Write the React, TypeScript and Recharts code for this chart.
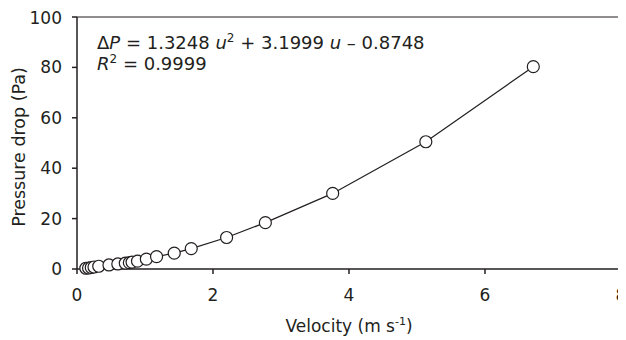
import React from "react";
import {
  ComposedChart,
  Line,
  XAxis,
  YAxis,
  Label,
  ReferenceLine,
  Customized,
} from "recharts";

const velocity = [
  0.13, 0.17, 0.21, 0.25, 0.32, 0.47, 0.6, 0.71, 0.77, 0.81, 0.89, 1.02, 1.17,
  1.43, 1.68, 2.2, 2.77, 3.76, 5.13, 6.71,
];
const pressureDrop = [
  0.3, 0.4, 0.6, 0.8, 1.1, 1.6, 2.0, 2.3, 2.5, 2.7, 3.1, 3.9, 4.9, 6.3, 8.1,
  12.5, 18.4, 30.0, 50.5, 80.3,
];
const xTicks = [0, 2, 4, 6, 8];
const yTicks = [0, 20, 40, 60, 80, 100];

const data = velocity.map((u, i) => ({ u, dp: pressureDrop[i] }));

const ink = "#231f20";
const font = "DejaVu Sans";

const OpenDot = (props: any) => {
  const { cx, cy } = props;
  if (cx == null || cy == null) return null;
  return <circle cx={cx} cy={cy} r={6} fill="#fff" stroke={ink} strokeWidth={1.2} />;
};

const XTitle = (props: any) => {
  const { x, y, width, height } = props.viewBox;
  return (
    <text x={x + width / 2} y={y + height - 8} textAnchor="middle" fill={ink} fontSize={17} fontFamily={font}>
      Velocity (m s
      <tspan dy={-7} fontSize={11}>-1</tspan>
      <tspan dy={7}>)</tspan>
    </text>
  );
};

const YTitle = (props: any) => {
  const { y, height } = props.viewBox;
  const cx = 17;
  const cy = y + height / 2 + 4;
  return (
    <text x={cx} y={cy} transform={`rotate(-90, ${cx}, ${cy})`} textAnchor="middle" fill={ink} fontSize={17.5} fontFamily={font}>
      Pressure drop (Pa)
    </text>
  );
};

// fitted curve and R² shown in the top-left corner
const Equation = () => (
  <g fill={ink} fontSize={18} fontFamily={font}>
    <text x={89} y={41}>
      Δ<tspan fontStyle="italic">P</tspan>
      <tspan> = 1.3248 </tspan>
      <tspan fontStyle="italic">u</tspan>
      <tspan dy={-7} fontSize={12}>2</tspan>
      <tspan dy={7}> + 3.1999 </tspan>
      <tspan fontStyle="italic">u</tspan>
      <tspan> – 0.8748</tspan>
    </text>
    <text x={89} y={62}>
      <tspan fontStyle="italic">R</tspan>
      <tspan dy={-7} fontSize={12}>2</tspan>
      <tspan dy={7}> = 0.9999</tspan>
    </text>
  </g>
);

export default function App() {
  const tickStyle = { fill: ink, fontSize: 17, fontFamily: font };
  return (
    <ComposedChart
      width={618}
      height={332}
      data={data}
      margin={{ top: 9, right: 5, bottom: 0, left: 0 }}
    >
      <XAxis
        dataKey="u"
        type="number"
        domain={[0, 8]}
        ticks={xTicks}
        height={71}
        tickSize={5}
        tickMargin={15}
        tick={tickStyle}
        stroke={ink}
        strokeWidth={1.5}
        tickLine={{ stroke: ink }}
      >
        <Label content={XTitle} />
      </XAxis>
      <YAxis
        type="number"
        domain={[0, 100]}
        ticks={yTicks}
        width={69}
        tickSize={5}
        tickMargin={10}
        tick={tickStyle}
        stroke={ink}
        strokeWidth={1.5}
        tickLine={{ stroke: ink }}
      >
        <Label content={YTitle} />
      </YAxis>
      <ReferenceLine y={100} stroke={ink} strokeWidth={1.2} />
      <ReferenceLine x={8} stroke={ink} strokeWidth={1.2} />
      <Line
        dataKey="dp"
        type="linear"
        stroke={ink}
        strokeWidth={1.2}
        dot={<OpenDot />}
        activeDot={false}
        isAnimationActive={false}
      />
      <Customized component={Equation} />
    </ComposedChart>
  );
}
